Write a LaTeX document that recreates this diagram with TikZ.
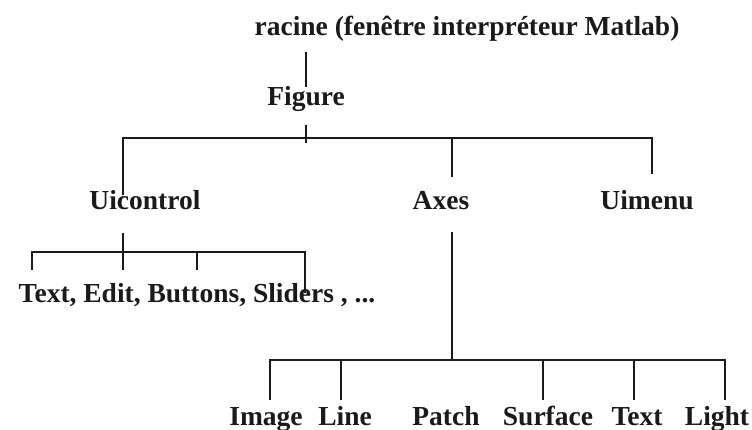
\documentclass[tikz,border=0pt]{standalone}
\usepackage{fontspec}
\setmainfont{Liberation Serif}
\usepackage{tikz}
\usetikzlibrary{calc}
\definecolor{ink}{HTML}{1A1A1A}

\begin{document}
\begin{tikzpicture}[x=1pt,y=-1pt,
    lbl/.style={font=\fontsize{27.5}{30}\selectfont\bfseries,text=ink,inner sep=0pt,text height=19pt,text depth=6pt,anchor=base},
    link/.style={draw=ink,line width=1.6pt}]
      \useasboundingbox[fill=white] (0,0) rectangle (752,430);
      % labels
      \node[lbl] (racine) at (467,36) {racine (fenêtre interpréteur Matlab)};
      \node[lbl] (figure) at (306,106) {Figure};
      \node[lbl] (uicontrol) at (145,210) {Uicontrol};
      \node[lbl] (axes) at (441,210) {Axes};
      \node[lbl] (uimenu) at (647,210) {Uimenu};
      \node[lbl] (widgets) at (197,302) {Text, Edit, Buttons, Sliders , ...};
      \node[lbl] (image) at (266,425) {Image};
      \node[lbl] (line) at (345,425) {Line};
      \node[lbl] (patch) at (446,425) {Patch};
      \node[lbl] (surface) at (548,425) {Surface};
      \node[lbl] (txt) at (637,425) {Text};
      \node[lbl] (light) at (717,425) {Light};
      % bus points
      \coordinate (figbus) at ([yshift=-26pt]figure.south);
      \coordinate (uibus) at ([xshift=-22pt,yshift=-36pt]uicontrol.south);
      \coordinate (axbus) at ([xshift=11pt,yshift=-144pt]axes.south);
      % racine -> figure
      \draw[link,shorten <=10pt] (racine.south -| figure) -- (figure.north);
      % figure -> uicontrol, axes, uimenu
      \draw[link] ([yshift=-13pt]figure.south) -- ([yshift=-5pt]figbus);
      \draw[link] ([xshift=-22pt,yshift=-4pt]uicontrol.north) |- (figbus) -| ([xshift=5pt,yshift=17pt]uimenu.north);
      \draw[link] ([xshift=11pt,yshift=14pt]axes.north) |- (figbus);
      % uicontrol -> widgets
      \draw[link] ([xshift=-22pt,yshift=-17pt]uicontrol.south) -- ([yshift=-18pt]uibus);
      \draw[link] ([xshift=-165pt,yshift=13pt]widgets.north) |- (uibus) -| ([xshift=108pt,yshift=-10pt]widgets.north);
      \draw[link] ([yshift=13pt]widgets.north) |- (uibus);
      % axes -> graphics objects
      \draw[link] ([xshift=11pt,yshift=-16pt]axes.south) -- (axbus);
      \draw[link] ([xshift=4pt,yshift=6pt]image.north) |- (axbus) -| ([xshift=8pt,yshift=6pt]light.north);
      \foreach \n/\dx in {line/-4,surface/-5,txt/-3}
        \draw[link] ([xshift=\dx pt,yshift=6pt]\n.north) |- (axbus);
    \end{tikzpicture}
\end{document}
